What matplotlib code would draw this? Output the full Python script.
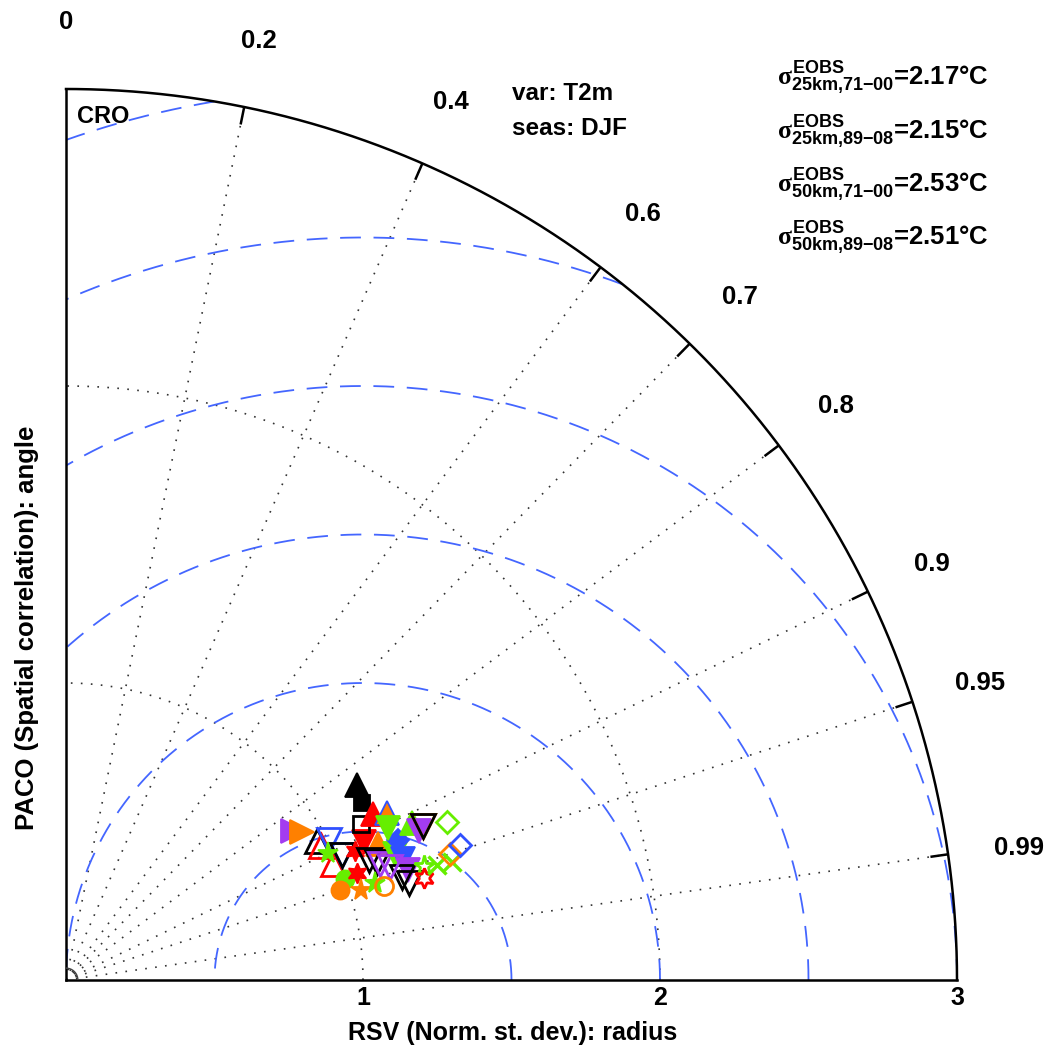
import numpy as np
import matplotlib.pyplot as plt

plt.rcParams['font.family'] = ['Liberation Sans', 'DejaVu Sans']
plt.rcParams['font.weight'] = 'bold'
plt.rcParams['mathtext.fontset'] = 'custom'
plt.rcParams['mathtext.rm'] = 'Liberation Sans:bold'
plt.rcParams['mathtext.bf'] = 'Liberation Sans:bold'
plt.rcParams['mathtext.it'] = 'Liberation Serif'

# normalised standard deviation (radius) and spatial correlation (angle) of each run
rsv = [0.914, 0.938, 0.966, 0.970, 1.003, 0.980, 1.020, 1.020, 1.066, 1.106,
       1.146, 1.097, 1.120, 1.127, 1.186, 1.213, 1.206, 1.210, 1.183, 1.201,
       1.155, 0.999, 0.971, 1.044, 1.039, 1.091, 1.117, 1.265, 1.253, 1.308,
       1.359, 1.361, 1.402, 1.389, 0.980, 1.179, 1.161, 1.124, 1.175, 1.218,
       1.199, 1.279, 1.290, 1.309, 1.309]
paco = [0.836, 0.847, 0.875, 0.885, 0.883, 0.917, 0.911, 0.911, 0.913, 0.907,
        0.917, 0.930, 0.935, 0.938, 0.934, 0.921, 0.941, 0.952, 0.956, 0.962,
        0.944, 0.940, 0.950, 0.939, 0.957, 0.954, 0.959, 0.953, 0.962, 0.955,
        0.956, 0.950, 0.946, 0.924, 0.900, 0.831, 0.858, 0.884, 0.880, 0.887,
        0.904, 0.911, 0.921, 0.918, 0.918]

hexagram = (6, 1, 0)
shapes = ['>', '>', '^', '^', 'v', '^', 'v', 'v', hexagram, 'v',
          '^', 'v', 'v', 'v', 'v', 'D', 'v', 'v', 'v', 'v',
          'v', 'o', 'o', hexagram, '*', '*', 'o', '*', hexagram, 'x',
          'x', 'D', 'D', 'D', '*', '^', 's', 's', '^', '^',
          'v', '^', 'v', 'v', 'v']
colors = ['#a33cf0', '#ff8000', 'k', '#ff0000', '#3050ff', '#ff0000', '#3050ff', 'k', '#ff0000', '#ff0000',
          '#ff8000', 'k', 'k', '#a33cf0', '#66ee00', '#3050ff', '#3050ff', '#a33cf0', 'k', 'k',
          '#a33cf0', '#66ee00', '#ff8000', '#ff0000', '#ff8000', '#66ee00', '#ff8000', '#66ee00', '#ff0000', '#66ee00',
          '#66ee00', '#ff8000', '#3050ff', '#66ee00', '#66ee00', 'k', 'k', 'k', '#ff0000', '#ff8000',
          '#66ee00', '#66ee00', '#a33cf0', '#ff8000', 'k']
filled = [1, 1, 0, 0, 0, 0, 0, 0, 1, 1,
          1, 0, 0, 0, 1, 1, 1, 1, 0, 0,
          0, 1, 1, 1, 1, 1, 0, 0, 0, 1,
          1, 0, 0, 0, 1, 1, 1, 0, 1, 1,
          1, 1, 1, 0, 0]
edges = [None] * len(rsv)
edges[39] = '#3050ff'

corr_ticks = [0.2, 0.4, 0.6, 0.7, 0.8, 0.9, 0.95, 0.99]
corr_labels = ['0', '0.2', '0.4', '0.6', '0.7', '0.8', '0.9', '0.95', '0.99']
rsv_ticks = [1, 2, 3]
rsv_rings = [1, 2]
rms_rings = [0.5, 1.0, 1.5, 2.0, 2.5, 3.0]
rsv_max = 3.0

obs_periods = ['25km{,}71{-}00', '25km{,}89{-}08', '50km{,}71{-}00', '50km{,}89{-}08']
obs_sigma = [2.17, 2.15, 2.53, 2.51]

BLUE = '#4466ff'
DOT = (0, (1, 5))


def marker_size(shape):
    if shape in ('^', 'v', '>', '<'):
        return 17
    if shape == 's':
        return 11
    if shape == 'D':
        return 11
    if shape == 'o':
        return 13
    if shape == '*':
        return 15.5
    if shape == 'x':
        return 13
    return 14.5


W, H = 1048, 1050
fig = plt.figure(figsize=(W / 100, H / 100), dpi=100)
ax = fig.add_axes([66 / W, 70 / H, 891 / W, 891 / H])
ax.set_xlim(0, rsv_max)
ax.set_ylim(0, rsv_max)

# centred RMS difference circles around the reference point (1, 0)
t = np.linspace(0, np.pi, 4000)
for r in rms_rings:
    x = 1 + r * np.cos(t)
    y = r * np.sin(t)
    keep = (x >= 0) & (x ** 2 + y ** 2 <= rsv_max ** 2)
    ax.plot(np.where(keep, x, np.nan), np.where(keep, y, np.nan),
            color=BLUE, lw=1.3, dashes=(11.5, 7), zorder=2)

# standard deviation rings
q = np.linspace(0, np.pi / 2, 400)
for r in rsv_rings:
    ax.plot(r * np.cos(q), r * np.sin(q), color='#333333', lw=1.2, ls=DOT, zorder=1)

# correlation rays and ticks on the outer arc
for c in corr_ticks:
    a = np.arccos(c)
    ax.plot([0, rsv_max * np.cos(a)], [0, rsv_max * np.sin(a)],
            color='#333333', lw=1.2, ls=DOT, zorder=1)
    ax.plot([(rsv_max - 0.06) * np.cos(a), rsv_max * np.cos(a)],
            [(rsv_max - 0.06) * np.sin(a), rsv_max * np.sin(a)],
            color='k', lw=1.8, zorder=3, solid_capstyle='butt')
for c, lab in zip([0.0] + corr_ticks, corr_labels):
    a = np.arccos(c)
    ax.text(3.24 * np.cos(a), 3.24 * np.sin(a) - 0.013, lab, ha='center', va='center',
            fontsize=18.5)

# outer arc and the small angle mark at the origin
ax.plot(rsv_max * np.cos(q), rsv_max * np.sin(q), color='k', lw=1.8,
        clip_on=False, zorder=3)
ax.plot(0.04 * np.cos(q), 0.04 * np.sin(q), color='#444444', lw=1.0, zorder=3)

for spine in ('top', 'right'):
    ax.spines[spine].set_visible(False)
for spine in ('left', 'bottom'):
    ax.spines[spine].set_linewidth(1.8)
ax.set_xticks(rsv_ticks)
ax.set_xticklabels([str(v) for v in rsv_ticks])
ax.set_yticks([])
ax.tick_params(axis='x', length=0, pad=4, labelsize=18)

# model runs
for s, p, m, col, f, e in zip(rsv, paco, shapes, colors, filled, edges):
    a = np.arccos(p)
    ms = marker_size(m)
    edge = e if e is not None else col
    if m == 'x':
        ax.plot(s * np.cos(a), s * np.sin(a), ls='none', marker=m, ms=ms,
                mec=col, mew=2.4, zorder=5)
    elif f:
        ax.plot(s * np.cos(a), s * np.sin(a), ls='none', marker=m, ms=ms,
                mfc=col, mec=edge, mew=1.3, zorder=5)
    else:
        ax.plot(s * np.cos(a), s * np.sin(a), ls='none', marker=m, ms=ms,
                mfc='none', mec=edge, mew=2.0, zorder=5)

# annotations
ax.text(0.037, 2.906, 'CRO', ha='left', va='center', fontsize=17)
ax.text(1.502, 2.985, 'var: T2m', ha='left', va='center', fontsize=17.5)
ax.text(1.502, 2.867, 'seas: DJF', ha='left', va='center', fontsize=17.5)
for i, (per, sig) in enumerate(zip(obs_periods, obs_sigma)):
    base_y = 86 + 53.3 * i
    fig.text(777 / W, 1 - base_y / H,
             r'$\sigma^{\mathrm{EOBS}}_{\mathrm{' + per + r'}}$' + '={:.2f}°C'.format(sig),
             ha='left', va='baseline', fontsize=18.5)

fig.text(513 / W, 1 - 1033 / H, 'RSV (Norm. st. dev.): radius',
         ha='center', va='center', fontsize=18)
fig.text(27 / W, 1 - 628 / H, 'PACO (Spatial correlation): angle',
         ha='center', va='center', rotation=90, fontsize=18.5)

fig.savefig('out.png', dpi=100)
